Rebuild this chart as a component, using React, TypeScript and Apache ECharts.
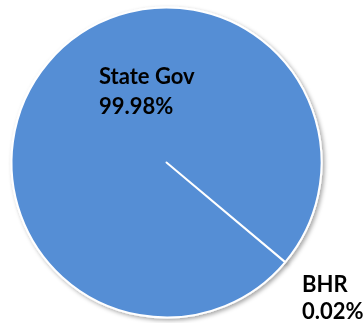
import React, { useEffect, useRef } from "react";
import * as echarts from "echarts";

const categories = ["BHR", "State Gov"];
const values = [0.02, 99.98];

export default function App() {
  const ref = useRef<HTMLDivElement>(null);
  useEffect(() => {
    const chart = echarts.init(ref.current!, null, { renderer: "svg" });
    const labelPos = [
      { x: 302, y: 269 },
      { x: 99, y: 61 },
    ];
    const secondLineHeight = [25, 30];
    const txt = {
      fontFamily: "Lato",
      fontWeight: "bold" as const,
      fontSize: 22,
      color: "#000000",
    };
    chart.setOption({
      animation: false,
      series: [
        {
          type: "pie",
          center: [166.5, 162.5],
          radius: 155,
          startAngle: -40,
          clockwise: true,
          data: categories.map((c, i) => ({
            name: c,
            value: values[i],
            label: {
              rich: {
                n: { ...txt, lineHeight: 29 },
                p: { ...txt, lineHeight: secondLineHeight[i] },
              },
            },
          })),
          itemStyle: {
            color: "#558ED5",
            borderColor: "#ffffff",
            borderWidth: 2,
            shadowBlur: 4,
            shadowOffsetX: 2,
            shadowOffsetY: 2,
            shadowColor: "rgba(0,0,0,0.35)",
          },
          label: {
            show: true,
            position: "inside",
            formatter: "{n|{b}}\n{p|{d}%}",
            ...txt,
          },
          labelLine: { show: false },
          labelLayout: (params: any) => ({
            x: labelPos[params.dataIndex].x,
            y: labelPos[params.dataIndex].y,
            align: "left",
            verticalAlign: "top",
          }),
          emphasis: { disabled: true },
        },
      ],
    });
    return () => chart.dispose();
  }, []);
  return (
    <div
      ref={ref}
      style={{ position: "fixed", left: 0, top: 0, width: 363, height: 323 }}
    />
  );
}
